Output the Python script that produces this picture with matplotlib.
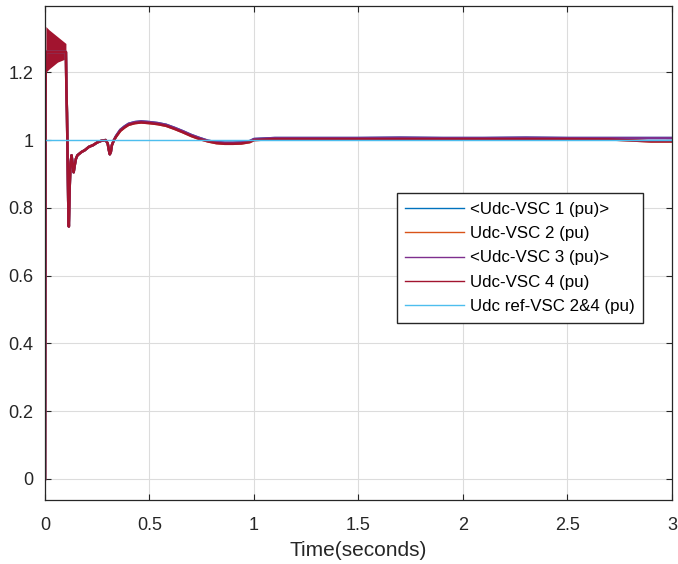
import matplotlib.pyplot as plt

plt.rcParams['font.family'] = ['Liberation Sans', 'DejaVu Sans']

# time axis (s) and traces
t = [0, 0.002, 0.004, 0.100, 0.102, 0.105, 0.108, 0.111, 0.114, 0.118, 0.122,
     0.127, 0.132, 0.137, 0.142, 0.148, 0.155, 0.165, 0.175, 0.19, 0.21, 0.23,
     0.25, 0.27, 0.29, 0.30, 0.305, 0.31, 0.315, 0.32, 0.33, 0.34, 0.36, 0.38,
     0.40, 0.43, 0.46, 0.50, 0.54, 0.58, 0.62, 0.66, 0.70, 0.74, 0.78, 0.82,
     0.86, 0.90, 0.94, 0.98, 1.0, 1.1, 1.3, 1.5, 1.7, 1.9, 2.1, 2.3, 2.5, 2.7,
     2.9, 3.0]
udc_a = [0, 1.10, 1.26, 1.26, 1.16, 1.08, 0.95, 0.82, 0.745, 0.86, 0.93,
         0.955, 0.93, 0.905, 0.925, 0.945, 0.955, 0.96, 0.965, 0.97, 0.98, 0.985,
         0.993, 0.998, 1.0, 0.99, 0.972, 0.958, 0.965, 0.985, 1.0, 1.012, 1.03,
         1.04, 1.048, 1.053, 1.055, 1.053, 1.05, 1.045, 1.036, 1.026, 1.015,
         1.006, 0.998, 0.994, 0.992, 0.992, 0.993, 0.997, 1.003, 1.006, 1.006,
         1.006, 1.007, 1.006, 1.006, 1.007, 1.006, 1.006, 1.006, 1.006]
udc_b = [0, 1.10, 1.26, 1.26, 1.16, 1.08, 0.95, 0.82, 0.745, 0.86, 0.93,
         0.955, 0.93, 0.905, 0.925, 0.945, 0.955, 0.96, 0.965, 0.97, 0.98, 0.985,
         0.993, 0.998, 1.0, 0.99, 0.972, 0.958, 0.965, 0.985, 1.0, 1.010, 1.027,
         1.037, 1.045, 1.050, 1.052, 1.050, 1.047, 1.042, 1.033, 1.023, 1.012,
         1.003, 0.996, 0.991, 0.989, 0.989, 0.990, 0.994, 1.0, 1.003, 1.003,
         1.003, 1.003, 1.003, 1.003, 1.003, 1.003, 1.002, 0.996, 0.996]
udc_ref = [1.0, 1.0]
t_ref = [0, 3]

# start-up oscillation band envelope
t_band = [0.004, 0.02, 0.04, 0.06, 0.08, 0.10]
band_hi = [1.335, 1.325, 1.315, 1.305, 1.295, 1.285]
band_lo = [1.20, 1.21, 1.22, 1.23, 1.235, 1.24]

labels = ['<Udc-VSC 1 (pu)>', 'Udc-VSC 2 (pu)', '<Udc-VSC 3 (pu)>',
          'Udc-VSC 4 (pu)', 'Udc ref-VSC 2&4 (pu)']
colors = ['#0072BD', '#D95319', '#7E2F8E', '#A2142F', '#4DBEEE']

fig = plt.figure(figsize=(6.78, 5.64), dpi=100)
ax = fig.add_axes([0.0664, 0.1135, 0.9246, 0.8755])

ax.plot(t, udc_a, color=colors[0], lw=1.8, label=labels[0])
ax.plot(t, udc_b, color=colors[1], lw=1.8, label=labels[1])
ax.plot(t, udc_a, color=colors[2], lw=1.8, label=labels[2])
ax.plot(t, udc_b, color=colors[3], lw=1.8, label=labels[3])
ax.fill_between(t_band, band_lo, band_hi, color=colors[3], lw=0)
ax.plot(t_ref, udc_ref, color=colors[4], lw=1.0, label=labels[4])

ax.set_xlim(0, 3)
ax.set_ylim(-0.062, 1.395)
ax.set_xticks([0, 0.5, 1, 1.5, 2, 2.5, 3])
ax.set_xticklabels(['0', '0.5', '1', '1.5', '2', '2.5', '3'])
ax.set_yticks([0, 0.2, 0.4, 0.6, 0.8, 1.0, 1.2])
ax.set_yticklabels(['0', '0.2', '0.4', '0.6', '0.8', '1', '1.2'])
ax.tick_params(direction='in', length=4, top=True, right=True,
               labelsize=13, colors='#262626')
ax.tick_params(axis='x', pad=12)
ax.tick_params(axis='y', pad=8.5)
ax.grid(True, color='#dcdcdc', lw=0.8)
for s in ax.spines.values():
    s.set_color('#262626')
    s.set_linewidth(0.9)

ax.set_xlabel('Time(seconds)', fontsize=15, color='#262626', labelpad=5)

leg = ax.legend(loc='upper left', bbox_to_anchor=(0.561, 0.621), fontsize=12.2,
                handlelength=3.5, handletextpad=0.3, borderpad=0.5,
                labelspacing=0.55, fancybox=False, framealpha=1,
                edgecolor='#262626', borderaxespad=0)
for line in leg.get_lines():
    line.set_linewidth(1.0)

plt.savefig('out.png', dpi=100)
